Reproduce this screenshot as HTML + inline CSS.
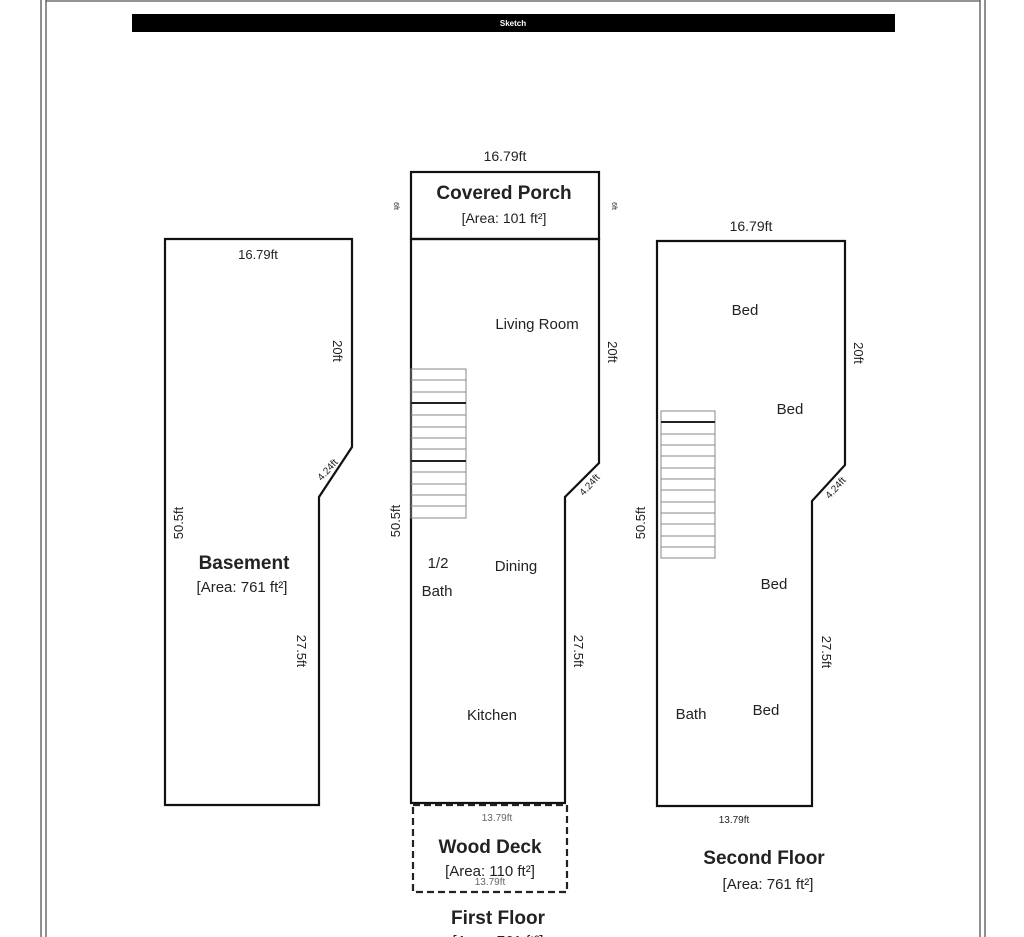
<!DOCTYPE html>
<html><head><style>
html,body{margin:0;padding:0;background:#fff;overflow:hidden;}
svg{display:block;}
text{font-family:"Liberation Sans",sans-serif;fill:#222;}
</style></head><body>
<svg width="1024" height="937" viewBox="0 0 1024 937" xmlns="http://www.w3.org/2000/svg">
<rect width="1024" height="937" fill="#fff"/>
<g stroke="#555" stroke-width="1.3" fill="none">
<line x1="41" y1="0" x2="41" y2="937"/><line x1="46" y1="0" x2="46" y2="937"/>
<line x1="980" y1="0" x2="980" y2="937"/><line x1="985" y1="0" x2="985" y2="937"/>
<line x1="46" y1="1" x2="980" y2="1"/>
</g>
<rect x="132" y="14" width="763" height="18" fill="#000"/>
<text x="513" y="26" font-size="8" font-weight="bold" text-anchor="middle" style="fill:#fff">Sketch</text>

<g stroke="#111" stroke-width="2.2" fill="none">
<polygon points="165,239 352,239 352,447 319,497 319,805 165,805"/>
<rect x="411" y="172" width="188" height="67"/>
<polyline points="411,239 599,239 599,463 565,497 565,803 411,803 411,239"/>
<polygon points="657,241 845,241 845,465 812,501 812,806 657,806"/>
</g>
<rect x="413" y="805" width="154" height="87" fill="none" stroke="#222" stroke-width="2.2" stroke-dasharray="7,4"/>

<g stroke="#888" stroke-width="1" fill="none">
<rect x="411" y="369" width="55" height="149"/>
<rect x="661" y="411" width="54" height="147"/>
</g>
<g stroke="#888" stroke-width="1">
<line x1="411" y1="380" x2="466" y2="380"/><line x1="411" y1="392" x2="466" y2="392"/>
<line x1="411" y1="415" x2="466" y2="415"/><line x1="411" y1="427" x2="466" y2="427"/>
<line x1="411" y1="438" x2="466" y2="438"/><line x1="411" y1="449" x2="466" y2="449"/>
<line x1="411" y1="472" x2="466" y2="472"/><line x1="411" y1="484" x2="466" y2="484"/>
<line x1="411" y1="495" x2="466" y2="495"/><line x1="411" y1="506" x2="466" y2="506"/>
<line x1="661" y1="434" x2="715" y2="434"/><line x1="661" y1="445" x2="715" y2="445"/>
<line x1="661" y1="456" x2="715" y2="456"/><line x1="661" y1="468" x2="715" y2="468"/>
<line x1="661" y1="479" x2="715" y2="479"/><line x1="661" y1="490" x2="715" y2="490"/>
<line x1="661" y1="502" x2="715" y2="502"/><line x1="661" y1="513" x2="715" y2="513"/>
<line x1="661" y1="524" x2="715" y2="524"/><line x1="661" y1="536" x2="715" y2="536"/>
<line x1="661" y1="547" x2="715" y2="547"/>
</g>
<g stroke="#222" stroke-width="2">
<line x1="411" y1="403" x2="466" y2="403"/><line x1="411" y1="461" x2="466" y2="461"/>
<line x1="661" y1="422" x2="715" y2="422"/>
</g>

<text x="258" y="259" font-size="13" text-anchor="middle">16.79ft</text>
<text transform="translate(333,351) rotate(90)" font-size="13" text-anchor="middle">20ft</text>
<text transform="translate(330,472) rotate(-48)" font-size="10" text-anchor="middle">4.24ft</text>
<text transform="translate(183,523) rotate(-90)" font-size="13" text-anchor="middle">50.5ft</text>
<text x="244" y="569" font-size="19" font-weight="bold" text-anchor="middle">Basement</text>
<text x="242" y="592" font-size="15" text-anchor="middle">[Area: 761 ft²]</text>
<text transform="translate(297,651) rotate(90)" font-size="13" text-anchor="middle">27.5ft</text>

<text x="505" y="161" font-size="14" text-anchor="middle">16.79ft</text>
<text x="504" y="199" font-size="19" font-weight="bold" text-anchor="middle">Covered Porch</text>
<text x="504" y="223" font-size="14" text-anchor="middle">[Area: 101 ft²]</text>
<text transform="translate(394,206) rotate(90)" font-size="7" text-anchor="middle">6ft</text>
<text transform="translate(612,206) rotate(90)" font-size="7" text-anchor="middle">6ft</text>
<text x="537" y="329" font-size="15" text-anchor="middle">Living Room</text>
<text transform="translate(608,352) rotate(90)" font-size="13" text-anchor="middle">20ft</text>
<text transform="translate(592,487) rotate(-48)" font-size="10" text-anchor="middle">4.24ft</text>
<text transform="translate(400,521) rotate(-90)" font-size="13" text-anchor="middle">50.5ft</text>
<text x="438" y="568" font-size="15" text-anchor="middle">1/2</text>
<text x="437" y="596" font-size="15" text-anchor="middle">Bath</text>
<text x="516" y="571" font-size="15" text-anchor="middle">Dining</text>
<text transform="translate(574,651) rotate(90)" font-size="13" text-anchor="middle">27.5ft</text>
<text x="492" y="720" font-size="15" text-anchor="middle">Kitchen</text>
<text x="497" y="821" font-size="10" text-anchor="middle" style="fill:#666">13.79ft</text>
<text x="490" y="853" font-size="19" font-weight="bold" text-anchor="middle">Wood Deck</text>
<text x="490" y="876" font-size="15" text-anchor="middle">[Area: 110 ft²]</text>
<text x="490" y="885" font-size="10" text-anchor="middle" style="fill:#666">13.79ft</text>
<text x="498" y="924" font-size="19" font-weight="bold" text-anchor="middle">First Floor</text>
<text x="498" y="946" font-size="15" text-anchor="middle">[Area: 761 ft²]</text>

<text x="751" y="231" font-size="14" text-anchor="middle">16.79ft</text>
<text x="745" y="315" font-size="15" text-anchor="middle">Bed</text>
<text x="790" y="414" font-size="15" text-anchor="middle">Bed</text>
<text transform="translate(854,353) rotate(90)" font-size="13" text-anchor="middle">20ft</text>
<text transform="translate(838,490) rotate(-48)" font-size="10" text-anchor="middle">4.24ft</text>
<text transform="translate(645,523) rotate(-90)" font-size="13" text-anchor="middle">50.5ft</text>
<text x="774" y="589" font-size="15" text-anchor="middle">Bed</text>
<text transform="translate(822,652) rotate(90)" font-size="13" text-anchor="middle">27.5ft</text>
<text x="691" y="719" font-size="15" text-anchor="middle">Bath</text>
<text x="766" y="715" font-size="15" text-anchor="middle">Bed</text>
<text x="734" y="823" font-size="10" text-anchor="middle">13.79ft</text>
<text x="764" y="864" font-size="19" font-weight="bold" text-anchor="middle">Second Floor</text>
<text x="768" y="889" font-size="15" text-anchor="middle">[Area: 761 ft²]</text>
</svg>
</body></html>
